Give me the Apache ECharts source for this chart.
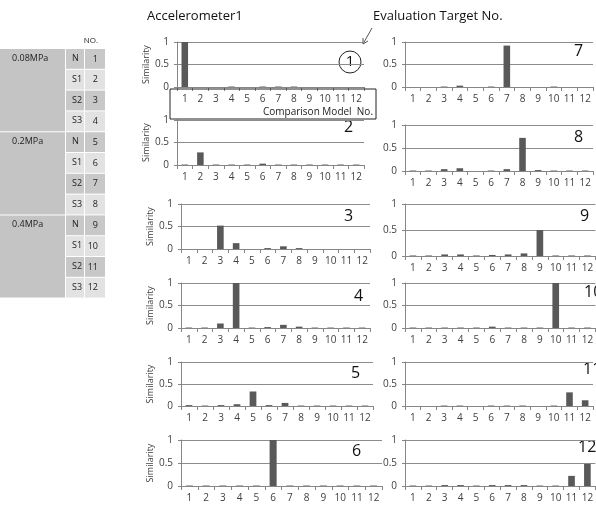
<!DOCTYPE html>
<html><head><meta charset="utf-8">
<script src="https://cdn.jsdelivr.net/npm/echarts@6/dist/echarts.min.js"></script>
<style>html,body{margin:0;padding:0;background:#fff}#c{width:596px;height:505px}</style>
</head><body><div id="c"></div>
<script>
const categories = ['1','2','3','4','5','6','7','8','9','10','11','12'];
const pressures = ['0.08MPa','0.2MPa','0.4MPa'];
const conditions = ['N','S1','S2','S3'];
const modelNos = ['1','2','3','4','5','6','7','8','9','10','11','12'];
const targetLabels = ['1','2','3','4','5','6','7','8','9','10','11','12'];

const sim1  = [1.00,0.00,0.00,0.01,0.00,0.01,0.01,0.01,0.00,0.00,0.00,0.00];
const sim2  = [0.01,0.28,0.01,0.01,0.01,0.03,0.01,0.01,0.01,0.01,0.01,0.01];
const sim3  = [0.00,0.00,0.52,0.13,0.00,0.02,0.06,0.02,0.00,0.00,0.00,0.00];
const sim4  = [0.01,0.01,0.10,1.00,0.01,0.02,0.07,0.03,0.01,0.01,0.01,0.01];
const sim5  = [0.02,0.01,0.02,0.04,0.33,0.02,0.07,0.01,0.01,0.01,0.01,0.01];
const sim6  = [0.01,0.01,0.01,0.01,0.01,1.00,0.01,0.01,0.01,0.01,0.01,0.01];
const sim7  = [0.00,0.00,0.01,0.03,0.00,0.01,0.92,0.00,0.00,0.01,0.00,0.00];
const sim8  = [0.01,0.01,0.04,0.06,0.00,0.01,0.04,0.72,0.02,0.01,0.01,0.01];
const sim9  = [0.01,0.01,0.03,0.03,0.01,0.02,0.03,0.05,0.50,0.01,0.01,0.01];
const sim10 = [0.01,0.01,0.01,0.01,0.01,0.03,0.01,0.01,0.01,1.00,0.01,0.01];
const sim11 = [0.00,0.00,0.01,0.01,0.00,0.01,0.01,0.01,0.00,0.01,0.31,0.13];
const sim12 = [0.01,0.01,0.02,0.02,0.01,0.02,0.02,0.02,0.01,0.01,0.22,0.48];
const allSims = [sim1,sim2,sim3,sim4,sim5,sim6,sim7,sim8,sim9,sim10,sim11,sim12];

// layout: [left, top(y of 1), right, bottom(y of 0)]
const boxes = [
  [177,42,364,87],[177,120,364,165],[181,204,370,249],
  [181,283,370,328],[181,362,373,406],[181,440,382,486],
  [405,42,593,87],[405,125,593,171],[405,204,600,256],
  [405,283,600,328],[405,362,593,406],[405,440,598,486]
];
const titlePos = [
  [350,62],[350,128],[350,217],[360,297],[357,374],[358,452],
  [580,52],[580,138],[586,217],[590,293],[589,370],[584,448]
];
const FONT = '"Open Sans", "Noto Sans", sans-serif';
const chart = echarts.init(document.getElementById('c'));
const grid=[], xAxis=[], yAxis=[], series=[], graphic=[];
allSims.forEach((d,i)=>{
  const b = boxes[i];
  grid.push({left:b[0], top:b[1], width:b[2]-b[0], height:b[3]-b[1]});
  xAxis.push({type:'category', gridIndex:i, data:categories,
    axisLine:{lineStyle:{color:'#868686'}},
    axisTick:{show:true, length:4, lineStyle:{color:'#868686'}},
    axisLabel:{fontSize:10, color:'#404040', margin:7, interval:0, fontFamily:FONT}});
  yAxis.push({type:'value', gridIndex:i, min:0, max:1, interval:0.5,
    name: i<6 ? 'Similarity' : '', nameLocation:'middle', nameGap:24,
    nameTextStyle:{fontSize:9, color:'#404040', fontFamily:FONT},
    axisLine:{show:true, lineStyle:{color:'#868686'}},
    axisTick:{show:true, length:3, lineStyle:{color:'#868686'}},
    axisLabel:{fontSize:10, color:'#404040', margin:8, fontFamily:FONT},
    splitLine:{lineStyle:{color:'#8c8c8c'}}});
  series.push({type:'bar', xAxisIndex:i, yAxisIndex:i, data:d, barWidth:'42%',
    itemStyle:{color:'#595959'}, silent:true});
  if (i>0) graphic.push({type:'text', left:titlePos[i][0]-6, top:titlePos[i][1]-9,
    style:{text:targetLabels[i], font:'16px '+FONT, fill:'#111'}});
});

// circle target 1
graphic.push({type:'circle', shape:{cx:350,cy:62,r:11}, style:{fill:'none', stroke:'#222', lineWidth:1}});
graphic.push({type:'text', x:350, y:62, style:{text:targetLabels[0], font:'15px '+FONT, fill:'#111', textAlign:'center', textVerticalAlign:'middle'}});
// arrow
graphic.push({type:'line', shape:{x1:372,y1:28,x2:363,y2:44}, style:{stroke:'#555', lineWidth:1}});
graphic.push({type:'polyline', shape:{points:[[363,38],[363,44],[368,41]]}, style:{stroke:'#555', lineWidth:1, fill:'none'}});
// box around axis labels of chart 1
graphic.push({type:'rect', shape:{x:170,y:89,width:206,height:30}, style:{fill:'none', stroke:'#222', lineWidth:1}, z:10});
graphic.push({type:'text', left:263, top:107, style:{text:'Comparison Model  No.', font:'10px '+FONT, fill:'#222'}});
// titles
graphic.push({type:'text', left:147, top:10, style:{text:'Accelerometer1', font:'13px '+FONT, fill:'#111'}});
graphic.push({type:'text', left:373, top:10, style:{text:'Evaluation Target No.', font:'13px '+FONT, fill:'#111'}});

// table
const tTop = 49, rowH = 20.8;
const col = [[0,65],[66,84],[85,105]];
graphic.push({type:'text', x:98, y:41, style:{text:'NO.', font:'8px '+FONT, fill:'#222', textAlign:'right', textVerticalAlign:'middle'}});
pressures.forEach((p,pi)=>{
  const y0 = tTop + pi*4*rowH;
  graphic.push({type:'rect', shape:{x:col[0][0], y:y0, width:col[0][1]-col[0][0], height:4*rowH-1}, style:{fill:'#c4c4c4'}});
  graphic.push({type:'text', left:12, top:y0+5, style:{text:p, font:'9px '+FONT, fill:'#222'}});
  conditions.forEach((c,ci)=>{
    const r = pi*4+ci, y = tTop + r*rowH;
    const fill = ci%2===0 ? '#c8c8c8' : '#e2e2e2';
    graphic.push({type:'rect', shape:{x:col[1][0], y:y, width:col[1][1]-col[1][0], height:rowH-1}, style:{fill:fill}});
    graphic.push({type:'rect', shape:{x:col[2][0], y:y, width:col[2][1]-col[2][0], height:rowH-1}, style:{fill:fill}});
    graphic.push({type:'text', left:72, top:y+5, style:{text:c, font:'9px '+FONT, fill:'#222'}});
    graphic.push({type:'text', x:98, y:y+10, style:{text:modelNos[r], font:'9px '+FONT, fill:'#222', textAlign:'right', textVerticalAlign:'middle'}});
  });
});

chart.setOption({animation:false, grid, xAxis, yAxis, series, graphic});
</script></body></html>
